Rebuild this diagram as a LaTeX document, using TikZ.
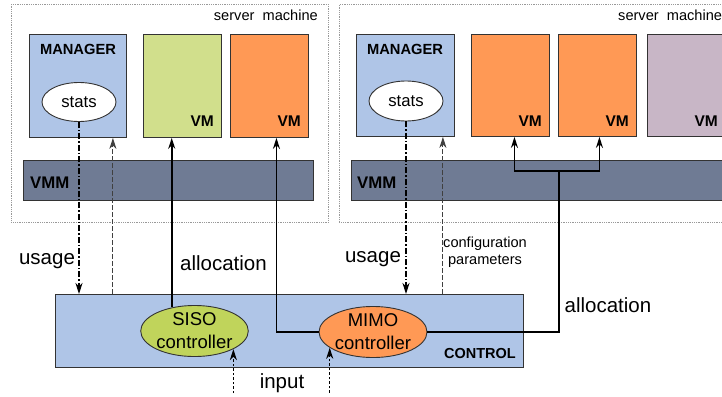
\documentclass[tikz,border=0pt]{standalone}
\usepackage{fontspec}
\setmainfont{Liberation Sans}
\usetikzlibrary{shapes.geometric,arrows.meta,calc}
\definecolor{mgrblue}{HTML}{AFC5E7}
\definecolor{vmgreen}{HTML}{D1DF8C}
\definecolor{sisogreen}{HTML}{C0D45B}
\definecolor{vmorange}{HTML}{FF9955}
\definecolor{vmmgray}{HTML}{6F7B94}
\definecolor{vmpink}{HTML}{C8B6C6}
\definecolor{edge}{HTML}{333333}
\begin{document}
\begin{tikzpicture}[x=1pt,y=-1pt,
  box/.style={draw=edge,line width=0.9pt,anchor=north west,inner sep=0pt},
  server/.style={draw=gray!80,densely dotted,line width=0.8pt,anchor=north west,inner sep=0pt},
  oval/.style={ellipse,draw=edge,line width=0.9pt,inner sep=0pt,align=center},
  big/.style={font=\fontsize{20.5}{24}\selectfont},
  small/.style={font=\fontsize{14.6}{18}\selectfont},
  bold/.style={font=\fontsize{15.5}{18}\selectfont\bfseries,inner sep=0pt},
  tip/.style={-{Stealth[length=11pt,width=7pt,inset=3.5pt]}},
  alloc/.style={line width=1.6pt,black},
  usage/.style={tip,line width=1.2pt,black,dash pattern=on 6pt off 2pt on 1.5pt off 2pt},
  cfg/.style={tip,line width=1.1pt,black!75,dash pattern=on 5pt off 2pt},
  inp/.style={tip,line width=1.3pt,black,dash pattern=on 2.5pt off 2pt}]
\useasboundingbox (0,0) rectangle (722,396);
\clip (0,0) rectangle (722,396);
% server machines
\node[server,minimum width=317pt,minimum height=218pt] (srv1) at (11,4) {};
\node[server,minimum width=420pt,minimum height=218pt] (srv2) at (339,4) {};
\node[small,anchor=base east,inner sep=0pt] (srvl1) at (318,21) {server\ \ machine};
\node[small,anchor=base west,inner sep=0pt] (srvl2) at (618,21) {server\ \ machine};
% left machine
\node[box,fill=mgrblue,minimum width=97pt,minimum height=103pt] (mgr1) at (29,34) {};
\node[bold,font=\fontsize{14.7}{18}\selectfont\bfseries,anchor=base] (mgrl1) at (78,55) {MANAGER};
\node[oval,fill=white,minimum width=74pt,minimum height=39pt,font=\fontsize{16.7}{20}\selectfont] (stats1) at (79,102) {stats};
\node[box,fill=vmgreen,minimum width=78pt,minimum height=103pt] (vm1) at (143,34) {};
\node[bold,anchor=base east] (vml1) at (214,126) {VM};
\node[box,fill=vmorange,minimum width=78pt,minimum height=103pt] (vm2) at (230,34) {};
\node[bold,anchor=base east] (vml2) at (301,126) {VM};
\node[box,fill=vmmgray,minimum width=290pt,minimum height=40pt] (vmm1) at (23,160) {};
\node[bold,font=\fontsize{16.8}{18}\selectfont\bfseries,anchor=base west] (vmml1) at (30,188) {VMM};
% right machine
\node[box,fill=mgrblue,minimum width=98pt,minimum height=102pt] (mgr2) at (356,34) {};
\node[bold,font=\fontsize{14.7}{18}\selectfont\bfseries,anchor=base] (mgrl2) at (405,55) {MANAGER};
\node[oval,fill=white,minimum width=74pt,minimum height=40pt,font=\fontsize{16.7}{20}\selectfont] (stats2) at (406,101) {stats};
\node[box,fill=vmorange,minimum width=78pt,minimum height=102pt] (vm3) at (471,34) {};
\node[bold,anchor=base east] (vml3) at (542,126) {VM};
\node[box,fill=vmorange,minimum width=78pt,minimum height=102pt] (vm4) at (558,34) {};
\node[bold,anchor=base east] (vml4) at (629,126) {VM};
\node[box,fill=vmpink,minimum width=100pt,minimum height=102pt] (vm5) at (647,34) {};
\node[bold,anchor=base east] (vml5) at (718,126) {VM};
\node[box,fill=vmmgray,minimum width=420pt,minimum height=40pt] (vmm2) at (351,160) {};
\node[bold,font=\fontsize{16.8}{18}\selectfont\bfseries,anchor=base west] (vmml2) at (357,188) {VMM};
% control
\node[box,fill=mgrblue,minimum width=468pt,minimum height=73pt] (ctrl) at (55,294) {};
\node[bold,font=\fontsize{14.5}{18}\selectfont\bfseries,anchor=base east] (ctrll) at (516,358) {CONTROL};
\node[oval,fill=sisogreen,minimum width=107pt,minimum height=51pt,font=\fontsize{18.5}{23}\selectfont] (siso) at (194.5,331) {SISO\\controller};
\node[oval,fill=vmorange,minimum width=108pt,minimum height=50pt,font=\fontsize{18.5}{23}\selectfont] (mimo) at (373,332) {MIMO\\controller};
% coordinates
\coordinate (c1) at ($(mgr1.south east)+(-14,0)$);
\coordinate (c2) at ($(mgr2.south east)+(-12,0)$);
\coordinate (fork) at (559,171);
% connectors
\draw[usage] (stats1.south) -- (stats1.south |- ctrl.north);
\draw[cfg] (c1 |- ctrl.north) -- (c1);
\draw[usage] (stats2.south) -- (stats2.south |- ctrl.north);
\draw[cfg] (c2 |- ctrl.north) -- (c2);
\draw[alloc,tip] (siso.134) -- (siso.134 |- vm1.south);
\draw[alloc,tip] (mimo.west) -| ($(vm2.south)+(7,0)$);
\draw[alloc] (mimo.east) -| (fork);
\draw[alloc,tip] (fork) -| ($(vm3.south)+(4,0)$);
\draw[alloc,tip] (fork) -| ($(vm4.south)+(2,0)$);
\draw[inp] ($(siso.-25)+(0,44)$) -- (siso.-25);
\draw[inp] ($(mimo.200.5)+(0,45)$) -- (mimo.200.5);
% labels
\node[big,anchor=base,inner sep=0pt] (lu1) at (47,264) {usage};
\node[big,anchor=base,inner sep=0pt] (la1) at (223.5,270) {allocation};
\node[big,anchor=base,inner sep=0pt] (lu2) at (373,262) {usage};
\node[small,anchor=base,inner sep=0pt] (lc) at (485,247) {configuration};
\node[small,anchor=base,inner sep=0pt] (lp) at (485,264) {parameters};
\node[big,anchor=base,inner sep=0pt] (la2) at (608,312) {allocation};
\node[big,anchor=base,inner sep=0pt] (li) at (282,388) {input};
\end{tikzpicture}
\end{document}
